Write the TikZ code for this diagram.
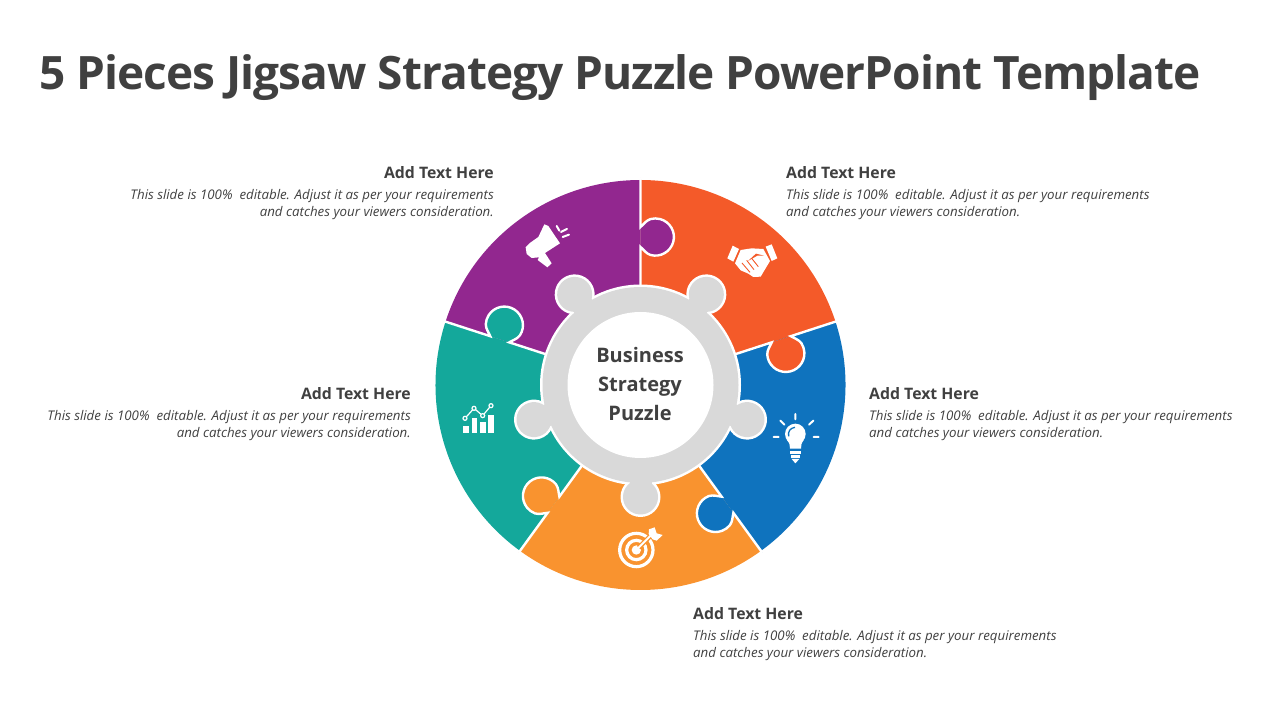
\documentclass[tikz,border=0pt]{standalone}
\usepackage{fontspec}
\setmainfont{Open Sans}
\newfontfamily\titlefont[LetterSpace=-2.1]{Open Sans}
\usetikzlibrary{positioning}
\definecolor{pieceRed}{HTML}{F45A29}
\definecolor{pieceBlue}{HTML}{0F73BE}
\definecolor{pieceAmber}{HTML}{F9932F}
\definecolor{pieceTeal}{HTML}{14A89B}
\definecolor{piecePurple}{HTML}{92278F}
\definecolor{hubGray}{HTML}{D9D9D9}
\definecolor{txtGray}{HTML}{404040}
\tikzset{
	headtxt/.style={font=\bfseries\fontsize{15.8}{18}\selectfont, text=txtGray, inner sep=0pt},
	bodytxt/.style={font=\itshape\fontsize{13.3}{17}\selectfont, text=txtGray, inner sep=0pt},
	icon/.style={shift={(#1)}, x=0.3333pt, y=-0.3333pt, white}
}
% one seam between two pieces, lying on the x axis, tab towards -y
\def\seam{(95,0) -- (138,0) .. controls (135.5,-3) and (131.5,-5.5) .. (130,-10)
	arc (165:375:18.6) .. controls (164.5,-5.5) and (160.5,-3) .. (158,0) -- (207,0)}
\begin{document}
\begin{tikzpicture}[x=1pt, y=1pt]
		\useasboundingbox (0,0) rectangle (1280,720);
		\node[anchor=west, inner sep=0pt, text=txtGray, font=\titlefont\bfseries\fontsize{46}{50}\selectfont] (title) at (39,642) {5 Pieces Jigsaw Strategy Puzzle PowerPoint Template};
		
		\begin{scope}[shift={(640.5,335)}]
			% the pieces, then their tabs, then the white seams
			\foreach \a/\c in {18/pieceRed, 90/piecePurple, 162/pieceTeal, 234/pieceAmber, 306/pieceBlue}
			{
				\fill[\c, rotate=\a] (0,0) -- (205,0) arc (0:72:205) -- cycle;
			}
			\foreach \a/\c in {18/pieceRed, 90/piecePurple, 162/pieceTeal, 234/pieceAmber, 306/pieceBlue}
			{
				\fill[\c, rotate=\a] \seam -- cycle;
				\draw[white, line width=2.4pt, rotate=\a] \seam;
			}
			% hub: halo first, grey on top
			\foreach \a in {54,126,198,270,342}
			{
				\fill[white, rotate=\a] (112,0) circle (20);
				\fill[white, rotate=\a] (90,-13.5) rectangle (105,13.5);
			}
			\fill[white] (0,0) circle (100.5);
			\foreach \a in {54,126,198,270,342}
			{
				\fill[hubGray, rotate=\a] (112,0) circle (17.5);
				\fill[hubGray, rotate=\a] (90,-11) rectangle (105,11);
			}
			\fill[hubGray] (0,0) circle (98);
			\fill[white] (0,0) circle (73);
			\node[align=center, text=txtGray, font=\bfseries\fontsize{20}{29}\selectfont] (hub) at (-0.5,1) {Business\\Strategy\\Puzzle};
		\end{scope}
		
		% text blocks
		\foreach \nm/\x/\y/\an/\al in {A/494/548/east/right, B/411/327/east/right, C/786/548/west/left, D/869/327/west/left, E/693/107/west/left}
		{
			\node[headtxt, anchor=base \an] (head\nm) at (\x,\y-7) {Add Text Here};
			\node[bodytxt, anchor=base \an, align=\al] (body\nm) at (\x,\y-45) {This slide is 100\%\ \ editable. Adjust it as per your requirements\\and catches your viewers consideration.};
		}
		
		% megaphone
		\begin{scope}[icon={515,505}]
			\fill (88,28) -- (100,33) -- (135,85) -- (90,114) -- (110,145) -- (97,157) -- (68,135) -- (72,127) -- (50,129) -- (35,117) -- (32,97) -- (46,83) -- (70,66) -- cycle;
			\draw[line width=2pt, line cap=round] (125,33) -- (133,47) (138,51) -- (156,42) (143,66) -- (162,59);
		\end{scope}
		
		% handshake
		\begin{scope}[icon={720,485}]
			\fill (38,32) -- (57,42) -- (40,80) -- (22,70) -- cycle;
			\fill (137,35) -- (155,28) -- (172,70) -- (155,78) -- cycle;
			\fill (62,45) -- (95,40) -- (130,42) -- (150,78) -- (122,125) -- (100,126) -- (85,116) -- (62,106) -- (45,85) -- cycle;
			\draw[pieceRed, line width=.9pt] (66,84) -- (90,112) (80,76) -- (102,104) (95,70) -- (115,95);
			\fill[pieceRed] (84,78) -- (108,56) -- (132,62) -- (112,62) -- cycle;
		\end{scope}
		
		% light bulb
		\begin{scope}[icon={765,312}]
			\fill (91,78) circle (31);
			\fill (66,96) .. controls (74,106) and (75,112) .. (75,122) -- (108,122) .. controls (108,112) and (109,106) .. (116,96) -- cycle;
			\draw[pieceBlue, line width=1.3pt] (71,85) .. controls (68,70) and (76,60) .. (90,58);
			\draw[line width=2.4pt] (75,134) -- (108,134) (78,145) -- (105,145);
			\fill (80,153) -- (103,153) -- (91,166) -- cycle;
			\draw[line width=2pt, line cap=round] (91,18) -- (91,34) (46,38) -- (58,50) (145,38) -- (132,50) (26,87) -- (41,87) (146,87) -- (161,87);
		\end{scope}
		
		% target
		\begin{scope}[icon={608,200}]
			\draw[line width=3.2pt] (85,90) circle (50);
			\draw[line width=3.2pt] (85,90) circle (29);
			\fill (85,90) circle (14);
			\draw[pieceAmber, line width=4.5pt] (92,83) -- (135,40);
			\draw[line width=2pt] (85,90) -- (132,43);
			\fill (122,42) -- (123,28) -- (140,22) -- (146,40) -- (164,45) -- (146,62) -- (134,58) -- cycle;
		\end{scope}
		
		% chart
		\begin{scope}[icon={455,325}]
			\foreach \xa/\xb/\yt in {25/43/93, 50/67/70, 75/92/80, 98/117/60}
			{
				\fill (\xa,\yt) rectangle (\xb,115);
			}
			\draw[line width=1.2pt] (30,70) -- (57,40) -- (83,62) -- (108,32);
			\foreach \xa/\yt in {30/70, 57/40, 83/62, 108/32}
			{
				\draw[fill=pieceTeal, line width=1.2pt] (\xa,\yt) circle (6);
			}
		\end{scope}
		\end{tikzpicture}
\end{document}
